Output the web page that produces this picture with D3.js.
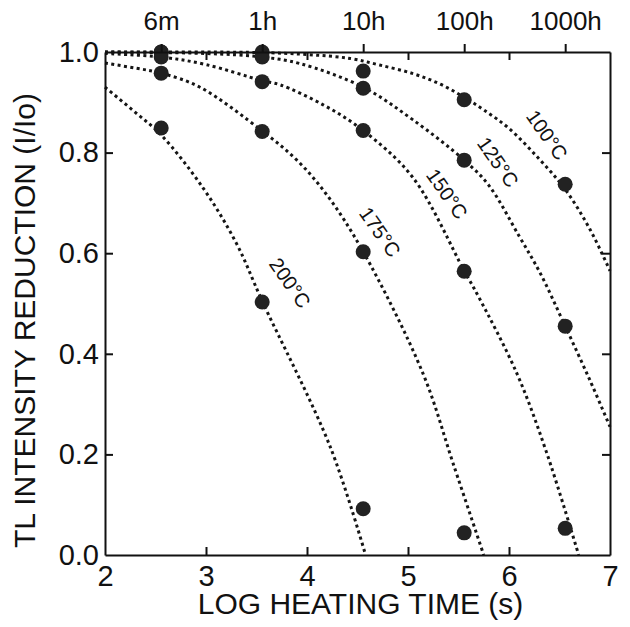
<!DOCTYPE html>
<html>
<head>
<meta charset="utf-8">
<script src="https://cdn.jsdelivr.net/npm/d3@7"></script>
<style>
  body { margin: 0; background: #fff; }
  text { font-family: "Liberation Sans", Arial, Helvetica, sans-serif; fill: #111; }
</style>
</head>
<body>
<div id="chart"></div>
<script>
// heating times (s) at which samples were measured, plus top labels
var timeSeconds = [360, 3600, 36000, 360000, 3600000];
var timeLabels = ["6m", "1h", "10h", "100h", "1000h"];

var temps = ["100°C", "125°C", "150°C", "175°C", "200°C"];

// measured TL reductions (I/Io) at each heating time
var pts100 = [1.0, 1.0, 0.962, 0.905, 0.737];
var pts125 = [1.0, 0.99, 0.928, 0.785, 0.455];
var pts150 = [0.99, 0.941, 0.844, 0.564, 0.053];
var pts175 = [0.958, 0.842, 0.603, 0.044];
var pts200 = [0.849, 0.503, 0.092];

// dotted model curves, [log time, I/Io]
var curve100 = [[2,1.0],[3.5,0.999],[4.0,0.995],[4.43,0.987],[4.72,0.974],[5.05,0.957],[5.32,0.936],[5.556,0.91],[5.75,0.885],[6.0,0.848],[6.3,0.787],[6.556,0.727],[6.8,0.648],[7,0.565]];
var curve125 = [[2,1.0],[3.0,0.997],[3.556,0.99],[3.93,0.977],[4.556,0.93],[5.05,0.865],[5.556,0.785],[5.8,0.735],[6.1,0.634],[6.31,0.56],[6.556,0.455],[6.8,0.348],[7,0.255]];
var curve150 = [[2,0.997],[2.556,0.99],[3.0,0.975],[3.556,0.943],[3.73,0.935],[4.16,0.895],[4.556,0.844],[5.05,0.75],[5.556,0.565],[5.7,0.513],[6.08,0.36],[6.37,0.205],[6.69,0]];
var curve175 = [[2,0.978],[2.3,0.968],[2.556,0.958],[2.94,0.93],[3.556,0.843],[3.9,0.785],[4.2,0.715],[4.556,0.603],[5.15,0.36],[5.45,0.18],[5.75,0]];
var curve200 = [[2,0.93],[2.3,0.88],[2.556,0.835],[2.97,0.73],[3.3,0.62],[3.556,0.505],[4.23,0.215],[4.58,0]];

// label anchor for each curve (log time, I/Io)
var labelX = [6.376, 5.89, 5.386, 4.723, 3.832];
var labelY = [0.835, 0.781, 0.718, 0.642, 0.541];

var xTicks = [2, 3, 4, 5, 6, 7];
var yTicks = [0, 0.2, 0.4, 0.6, 0.8, 1.0];

var allPts = [pts100, pts125, pts150, pts175, pts200];
var allCurves = [curve100, curve125, curve150, curve175, curve200];

// dimensions
var W = 630, H = 627;
var margin = {top: 52, right: 20, bottom: 72, left: 105},
    width = W - margin.left - margin.right,
    height = H - margin.top - margin.bottom;

var svg = d3.select("#chart").append("svg")
  .attr("width", W)
  .attr("height", H)
  .append("g")
  .attr("transform", "translate(" + margin.left + "," + margin.top + ")");

var x = d3.scaleLinear().domain([2, 7]).range([0, width]);
var y = d3.scaleLinear().domain([0, 1]).range([height, 0]);

// curves
var line = d3.line()
  .x(function(d){ return x(d[0]); })
  .y(function(d){ return y(d[1]); })
  .curve(d3.curveCatmullRom.alpha(0.5));

svg.append("g").selectAll("path")
  .data(allCurves)
  .enter()
  .append("path")
  .attr("d", line)
  .attr("fill", "none")
  .attr("stroke", "#151515")
  .attr("stroke-width", 3)
  .attr("stroke-dasharray", "3,3.4");

// points
allPts.forEach(function(series) {
  svg.append("g").selectAll("circle")
    .data(series)
    .enter()
    .append("circle")
    .attr("cx", function(d, i){ return x(Math.log10(timeSeconds[i])); })
    .attr("cy", function(d){ return y(d); })
    .attr("r", 7.5)
    .attr("fill", "#222");
});

// curve labels
svg.append("g").selectAll("text")
  .data(temps)
  .enter()
  .append("text")
  .attr("transform", function(d, i){
    return "translate(" + x(labelX[i]) + "," + y(labelY[i]) + ") rotate(55)";
  })
  .attr("text-anchor", "middle")
  .attr("dy", "0.35em")
  .style("font-size", "20px")
  .text(function(d){ return d; });

// axes
function styleAxis(g) {
  g.selectAll(".domain").attr("stroke", "#111").attr("stroke-width", 2);
  g.selectAll(".tick line").attr("stroke", "#111").attr("stroke-width", 2);
  g.selectAll("text").style("font-family", "'Liberation Sans', Arial, sans-serif").attr("fill", "#111");
}

var xAxis = svg.append("g")
  .attr("transform", "translate(0," + height + ")")
  .call(d3.axisBottom(x).tickValues(xTicks).tickFormat(d3.format("d"))
    .tickSizeInner(-8).tickSizeOuter(0).tickPadding(10));
styleAxis(xAxis);
xAxis.selectAll("text").style("font-size", "29px");
xAxis.selectAll(".tick line").filter(function(d){ return d == 2 || d == 7; }).remove();

var yAxis = svg.append("g")
  .call(d3.axisLeft(y).tickValues(yTicks).tickFormat(d3.format(".1f"))
    .tickSizeInner(-8).tickSizeOuter(0).tickPadding(6));
styleAxis(yAxis);
yAxis.selectAll("text").style("font-size", "29px");
yAxis.selectAll(".tick line").filter(function(d){ return d == 0 || d == 1; }).remove();

var yRight = svg.append("g")
  .attr("transform", "translate(" + width + ",0)")
  .call(d3.axisRight(y).tickValues([0.2, 0.4, 0.6, 0.8]).tickFormat("")
    .tickSizeInner(-8).tickSizeOuter(0));
styleAxis(yRight);

// top axis: inward ticks at integer log times
var xTopInner = svg.append("g")
  .call(d3.axisTop(x).tickValues([3, 4, 5, 6]).tickFormat("")
    .tickSizeInner(-8).tickSizeOuter(0));
styleAxis(xTopInner);

// top axis: outward ticks at the heating-time labels
var xTop = svg.append("g")
  .call(d3.axisTop(x).tickValues(timeSeconds.map(function(s){ return Math.log10(s); }))
    .tickFormat(function(d, i){ return timeLabels[i]; })
    .tickSizeInner(8).tickSizeOuter(0).tickPadding(14));
styleAxis(xTop);
xTop.select(".domain").remove();
xTop.selectAll("text").style("font-size", "26px");

// axis titles
svg.append("text")
  .attr("x", width / 2 + 3)
  .attr("y", height + 59)
  .attr("text-anchor", "middle")
  .style("font-size", "30px")
  .text("LOG HEATING TIME (s)");

svg.append("text")
  .attr("transform", "translate(" + (-margin.left + 35) + "," + (height / 2 + 17) + ") rotate(-90)")
  .attr("text-anchor", "middle")
  .style("font-size", "30px")
  .text("TL INTENSITY REDUCTION (I/Io)");
</script>
</body>
</html>
